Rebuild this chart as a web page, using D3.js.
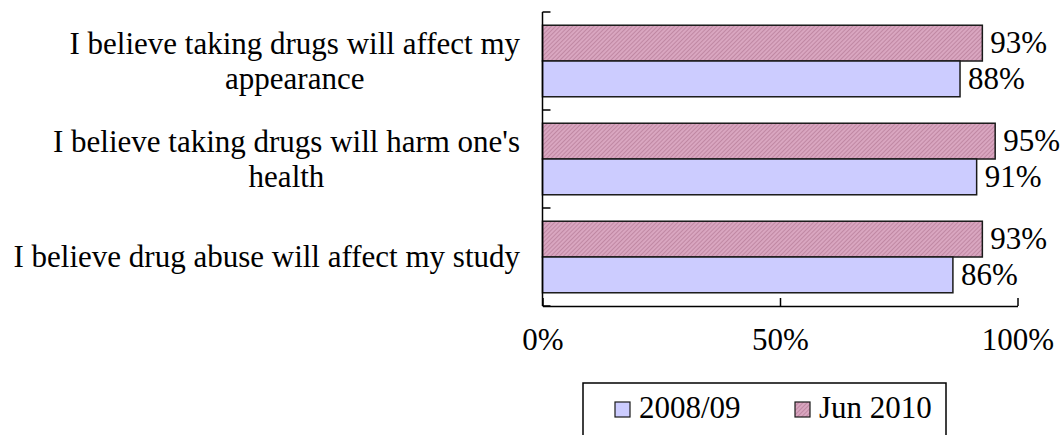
<!DOCTYPE html>
<html>
<head>
<meta charset="utf-8">
<script src="https://cdn.jsdelivr.net/npm/d3@7"></script>
<style>
  html, body { margin: 0; padding: 0; background: #fff; }
  svg { display: block; }
</style>
</head>
<body>
<svg id="chart" width="1064" height="435"></svg>
<script>
// ---- data ----
const categories = [
  ["I believe taking drugs will affect my", "appearance"],
  ["I believe taking drugs will harm one's", "health"],
  ["I believe drug abuse will affect my study"]
];
const seriesNames = ["2008/09", "Jun 2010"];
const values2008 = [0.879, 0.914, 0.864];
const valuesJun2010 = [0.926, 0.953, 0.926];
const xTicks = [0, 0.5, 1];
const xTickLabels = ["0%", "50%", "100%"];

// ---- layout ----
const svg = d3.select("#chart");
const FONT = "'Liberation Serif'";
const fontSize = 31;
const plot = { left: 542.5, right: 1017.5, top: 12, bottom: 306 };

function styleText(sel) {
  return sel.style("font-family", FONT).style("font-size", fontSize + "px").style("fill", "#000");
}

const x = d3.scaleLinear().domain([0, 1]).range([plot.left, plot.right]);
const y = d3.scaleBand().domain(d3.range(categories.length)).range([plot.top, plot.bottom]).paddingInner(0).paddingOuter(0);
const inner = d3.scaleBand().domain(["jun", "y2008"]).range([0, y.bandwidth()]).paddingInner(0).paddingOuter(0.37);

// pattern for the hatched pink series
const defs = svg.append("defs");
const pat = defs.append("pattern").attr("id", "hatch").attr("patternUnits", "userSpaceOnUse")
  .attr("width", 3).attr("height", 3).attr("patternTransform", "rotate(45)");
pat.append("rect").attr("width", 3).attr("height", 3).attr("fill", "#d9a6c0");
pat.append("line").attr("x1", 0).attr("y1", 0).attr("x2", 0).attr("y2", 3).attr("stroke", "#b37894").attr("stroke-width", 1.3);

const series = [
  { key: "jun", name: seriesNames[1], values: valuesJun2010, fill: "url(#hatch)" },
  { key: "y2008", name: seriesNames[0], values: values2008, fill: "#ccccff" }
];

const fmt = d3.format(".0%");

series.forEach(s => {
  const g = svg.append("g");
  g.selectAll("rect").data(s.values).enter().append("rect")
    .attr("x", x(0))
    .attr("y", (d, i) => y(i) + inner(s.key))
    .attr("width", d => x(d) - x(0))
    .attr("height", inner.bandwidth())
    .attr("fill", s.fill)
    .attr("stroke", "#1a1a1a")
    .attr("stroke-width", 1.5);
  styleText(g.selectAll("text").data(s.values).enter().append("text")
    .attr("x", d => x(d) + 8)
    .attr("y", (d, i) => y(i) + inner(s.key) + inner.bandwidth() / 2 + 10)
    .text(d => fmt(d)));
});

// y axis
const yAxis = svg.append("g").attr("transform", `translate(${plot.left},0)`);
yAxis.append("line").attr("x1", 0).attr("x2", 0).attr("y1", plot.top).attr("y2", plot.bottom)
  .attr("stroke", "#000").attr("stroke-width", 1.5);
const yTickPos = d3.range(categories.length + 1).map(i => i < categories.length ? y(i) : plot.bottom);
yAxis.selectAll(".yt").data(yTickPos).enter().append("line")
  .attr("x1", 0).attr("x2", 8).attr("y1", d => d).attr("y2", d => d)
  .attr("stroke", "#000").attr("stroke-width", 1.5);

// x axis
const xAxisG = svg.append("g").attr("transform", `translate(0,${plot.bottom})`)
  .call(d3.axisBottom(x).tickValues(xTicks).tickSize(-8).tickFormat((d, i) => xTickLabels[i]).tickSizeOuter(0));
xAxisG.select(".domain").attr("stroke", "#000").attr("stroke-width", 1.5);
xAxisG.selectAll(".tick line").attr("stroke", "#000").attr("stroke-width", 1.5);
styleText(xAxisG.selectAll(".tick text")).attr("y", 44).attr("dy", 0);

// category labels
const labelRight = 520;
const lineH = 35;
categories.forEach((lines, i) => {
  const g = svg.append("g");
  const cy = y(i) + y.bandwidth() / 2;
  const texts = lines.map((ln, j) => styleText(g.append("text")
    .attr("text-anchor", "middle")
    .attr("y", cy + 10 + (j - (lines.length - 1) / 2) * lineH)
    .text(ln)));
  const maxW = d3.max(texts, t => t.node().getComputedTextLength());
  texts.forEach(t => t.attr("x", labelRight - maxW / 2));
});

// legend
const leg = svg.append("g");
leg.append("rect").attr("x", 583).attr("y", 383).attr("width", 363).attr("height", 60)
  .attr("fill", "#fff").attr("stroke", "#000").attr("stroke-width", 1.5);
const legItems = [
  { name: seriesNames[0], fill: "#ccccff", x: 615 },
  { name: seriesNames[1], fill: "url(#hatch)", x: 795 }
];
legItems.forEach(it => {
  leg.append("rect").attr("x", it.x).attr("y", 402).attr("width", 15).attr("height", 15)
    .attr("fill", it.fill).attr("stroke", "#1a1a1a").attr("stroke-width", 1.2);
  styleText(leg.append("text").attr("x", it.x + 24).attr("y", 418).text(it.name));
});
</script>
</body>
</html>
